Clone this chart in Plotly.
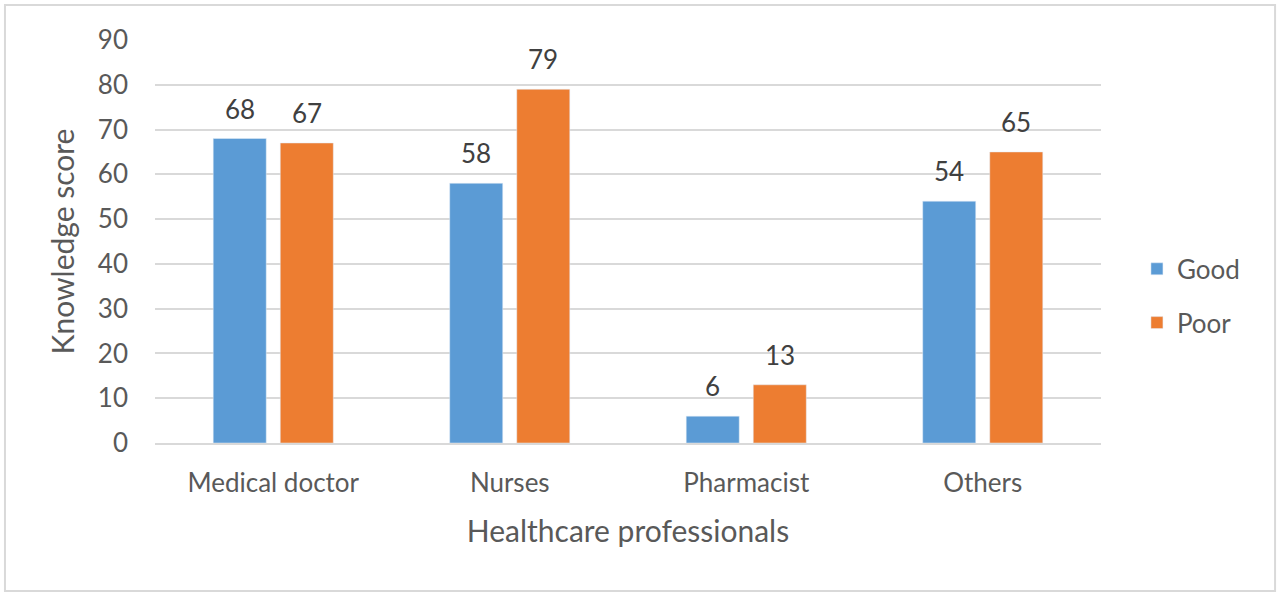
import plotly.graph_objects as go

# Knowledge score by profession
professions = ['Medical doctor', 'Nurses', 'Pharmacist', 'Others']
good = [68, 58, 6, 54]
poor = [67, 79, 13, 65]

font_family = 'Lato, Open Sans, sans-serif'
text_color = '#595959'

fig = go.Figure()
fig.add_trace(go.Bar(x=professions, y=good, name='Good', legendgroup='g',
                     marker_color='#5B9BD5'))
fig.add_trace(go.Bar(x=professions, y=poor, name='Poor', legendgroup='p',
                     marker_color='#ED7D31'))

# value labels above the bars
annotations = []
for series, shift in [(good, -33.5), (poor, 33.5)]:
    for cat, val in zip(professions, series):
        annotations.append(dict(x=cat, y=val, text=str(val), showarrow=False,
                                xshift=shift, yshift=12, yanchor='bottom',
                                font=dict(size=26, color='#404040')))

fig.update_layout(
    width=1280, height=596,
    margin=dict(l=155, r=179, t=40, b=153),
    plot_bgcolor='white', paper_bgcolor='white',
    font=dict(family=font_family, size=26, color=text_color),
    barmode='group', bargap=0.433, bargroupgap=0.209,
    showlegend=True,
    legend=dict(x=1.038, y=0.365, yanchor='middle', xanchor='left',
                tracegroupgap=17, font=dict(size=26, color=text_color),
                traceorder='grouped'),
    xaxis=dict(title=dict(text='Healthcare professionals', standoff=24,
                          font=dict(size=30, color=text_color)),
               showline=True, linecolor='#d9d9d9', linewidth=1.5,
               ticklabelstandoff=16,
               tickfont=dict(size=26, color=text_color)),
    yaxis=dict(title=dict(text='Knowledge score', standoff=14,
                          font=dict(size=30, color=text_color)),
               range=[0, 90], dtick=10, gridcolor='#d9d9d9', gridwidth=1.5,
               zeroline=False, ticklabelstandoff=26,
               tickfont=dict(size=26, color=text_color)),
    annotations=annotations,
    shapes=[dict(type='rect', xref='paper', yref='paper',
                 x0=-0.1586, x1=1.184, y0=-0.367, y1=1.087,
                 line=dict(color='#d9d9d9', width=2), layer='below')],
)

fig.write_html('out.html', config={'displayModeBar': False},
               post_script="document.body.style.margin='0px';")
